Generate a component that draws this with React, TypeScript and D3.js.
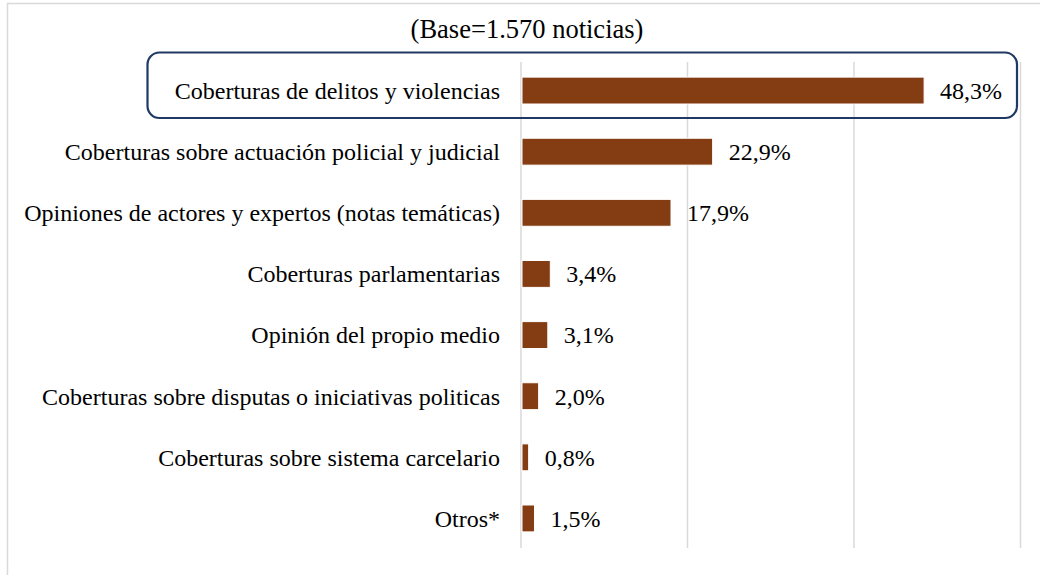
import React from "react";
import * as d3 from "d3";

const categories = [
  "Coberturas de delitos y violencias",
  "Coberturas sobre actuación policial y judicial",
  "Opiniones de actores y expertos (notas temáticas)",
  "Coberturas parlamentarias",
  "Opinión del propio medio",
  "Coberturas sobre disputas o iniciativas politicas",
  "Coberturas sobre sistema carcelario",
  "Otros*",
];
const values = [48.3, 22.9, 17.9, 3.4, 3.1, 2.0, 0.8, 1.5];
const valueLabels = ["48,3%", "22,9%", "17,9%", "3,4%", "3,1%", "2,0%", "0,8%", "1,5%"];
const gridTicks = [0, 20, 40, 60];
const title = "(Base=1.570 noticias)";

export default function App() {
  const W = 1040;
  const H = 575;
  const x = d3.scaleLinear().domain([0, 60]).range([521, 1020.5]);
  const y = d3.scaleBand<string>().domain(categories).range([60, 549]).paddingInner(0.56).paddingOuter(0.28);
  const txt: React.CSSProperties = { fontFamily: "Liberation Serif", fontSize: "24px" };
  const ttl: React.CSSProperties = { fontFamily: "Liberation Serif", fontSize: "26.5px" };
  const bx = 147.5;
  const by = 52.5;
  return (
    <svg width={W} height={H} style={{ position: "absolute", left: 0, top: 0, background: "#fff" }}>
      <rect x={7.5} y={3.5} width={1060} height={620} fill="#fff" stroke="#d9d9d9" strokeWidth={1.5} />
      <text x={527} y={38} textAnchor="middle" style={ttl} fill="#000">{title}</text>
      {gridTicks.map((t) => (
        <line key={t} x1={x(t)} x2={x(t)} y1={62} y2={548} stroke="#d9d9d9" strokeWidth={1.5} />
      ))}
      <rect x={bx} y={by} width={1017 - bx} height={118 - by} rx={12} ry={12} fill="none" stroke="#1f3864" strokeWidth={2.2} />
      {categories.map((c, i) => {
        const yy = y(c)!;
        const bw = y.bandwidth();
        const cy = yy + bw / 2;
        return (
          <g key={c}>
            <rect x={x(0) + 1} y={yy} width={x(values[i]) - x(0)} height={bw} fill="#843c12" stroke="#fff" strokeWidth={1} />
            <text x={500} y={cy} dy="0.35em" textAnchor="end" style={txt} fill="#000">{c}</text>
            <text x={x(values[i]) + 17} y={cy} dy="0.35em" textAnchor="start" style={txt} fill="#000">{valueLabels[i]}</text>
          </g>
        );
      })}
    </svg>
  );
}
